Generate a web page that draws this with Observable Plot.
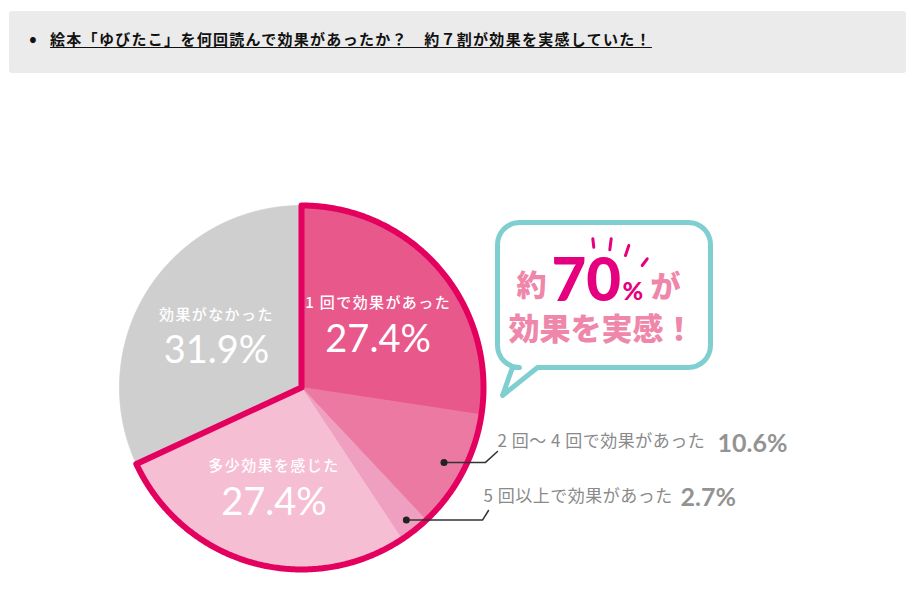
<!DOCTYPE html>
<html><head><meta charset="utf-8">
<script src="https://cdn.jsdelivr.net/npm/d3@7"></script>
<script src="https://cdn.jsdelivr.net/npm/@observablehq/plot@0.6"></script>
<style>
html,body{margin:0;padding:0;background:#fff;}
body{width:915px;height:589px;overflow:hidden;position:relative;font-family:"Noto Sans CJK JP","Noto Sans",sans-serif;}
#hdr{position:absolute;left:9px;top:11px;width:897px;height:62px;background:#ebebeb;border-radius:3px;}
#bullet{position:absolute;left:20px;top:15px;font-size:23px;line-height:23px;color:#111;}
#title{position:absolute;left:41px;top:20px;font-size:15px;line-height:16px;font-weight:700;color:#111;text-decoration:underline;text-underline-offset:2px;letter-spacing:1.3px;white-space:nowrap;}
#chart{position:absolute;left:0;top:80px;}
</style>
</head><body>
<div id="hdr"><span id="bullet">•</span><span id="title">絵本「ゆびたこ」を何回読んで効果があったか？　約７割が効果を実感していた！</span></div>
<div id="chart"></div>
<script>
// ---- data ----
const categories = ["1 回で効果があった", "2 回〜 4 回で効果があった", "5 回以上で効果があった", "多少効果を感じた", "効果がなかった"];
const values = [27.4, 10.6, 2.7, 27.4, 31.9];
const percentLabels = ["27.4%", "10.6%", "2.7%", "27.4%", "31.9%"];
const colors = ["#e9588b", "#ec79a1", "#efa0c0", "#f5bed2", "#cfcfcf"];
const effectCount = 4; // slices inside the "about 70%" outline
const calloutTexts = ["約", "70", "%", "が", "効果を実感！"];

// ---- layout ----
const W = 915, H = 509;
const CX = 301, CY = 307, R = 182;
const data = categories.map((c, i) => ({i, category: c, value: values[i], color: colors[i], pct: percentLabels[i]}));
const arcs = d3.pie().sort(null).value(d => d.value)(data);
const pt = (a, r) => [CX + r * Math.sin(a), CY - r * Math.cos(a)];
const arcPts = (a0, a1, r) => {
  const n = Math.max(2, Math.ceil((a1 - a0) / (Math.PI / 360)));
  return d3.range(n + 1).map(k => pt(a0 + (a1 - a0) * k / n, r));
};

const slicePts = arcs.flatMap((a, i) =>
  [[CX, CY], ...arcPts(a.startAngle, a.endAngle, R), [CX, CY]].map(([x, y]) => ({x, y, i, color: colors[i]})));

const outlinePts = [[CX, CY], ...arcPts(0, arcs[effectCount - 1].endAngle, R), [CX, CY]].map(([x, y]) => ({x, y}));

// labels inside big slices
const inside = [0, 3, 4].map(i => {
  const m = (arcs[i].startAngle + arcs[i].endAngle) / 2;
  const [x, y] = pt(m, 101);
  return {x, y, name: categories[i], pct: percentLabels[i]};
});

// outside labels for small slices
const outside = [
  {i: 1, r: 161, elbowX: 485, endX: 497, endY: 371, tx: 497, ty: 361, px: 717, py: 363},
  {i: 2, r: 169, elbowX: 482, endX: 488, endY: 430, tx: 483, ty: 416, px: 680, py: 417}
].map(o => {
  const m = (arcs[o.i].startAngle + arcs[o.i].endAngle) / 2;
  const [x, y] = pt(m, o.r);
  return {...o, dx: x, dy: y, name: categories[o.i], pct: percentLabels[o.i]};
});
const leaderPts = outside.flatMap(o => [
  {x: o.dx, y: o.dy, k: o.i}, {x: o.elbowX, y: o.dy, k: o.i}, {x: o.endX, y: o.endY, k: o.i}
]);

// speech bubble
const bx0 = 497, bx1 = 710, by0 = 142, by1 = 287, br = 22;
const corner = (cx, cy, a0, a1) => d3.range(0, 9).map(k => {
  const t = a0 + (a1 - a0) * k / 8;
  return [cx + br * Math.cos(t), cy + br * Math.sin(t)];
});
const bubble = [
  [bx0 + br, by0], [bx1 - br, by0],
  ...corner(bx1 - br, by0 + br, -Math.PI / 2, 0),
  [bx1, by1 - br],
  ...corner(bx1 - br, by1 - br, 0, Math.PI / 2),
  [537, by1], [502, 315], [512, by1],
  ...corner(bx0 + br, by1 - br, Math.PI / 2, Math.PI),
  [bx0, by0 + br],
  ...corner(bx0 + br, by0 + br, Math.PI, 1.5 * Math.PI),
  [bx0 + br, by0]
].map(([x, y]) => ({x, y}));

const rays = [
  {x1: 592.3, y1: 158.3, x2: 593.3, y2: 166.7},
  {x1: 610.7, y1: 158.3, x2: 609.3, y2: 169.3},
  {x1: 628.3, y1: 165, x2: 625, y2: 175},
  {x1: 646.7, y1: 178.3, x2: 641.7, y2: 185}
];

const pink = "#ef87ab", magenta = "#e4007f", grayText = "#8a8a8a";
const cjk = "Noto Sans CJK JP";

const chart = Plot.plot({
  width: W, height: H,
  margin: 0, marginTop: 0, marginRight: 0, marginBottom: 0, marginLeft: 0,
  x: {domain: [0, W], range: [0, W], axis: null},
  y: {domain: [0, H], range: [0, H], axis: null},
  color: {type: "identity"},
  style: {background: "transparent", overflow: "visible"},
  marks: [
    Plot.line(slicePts, {x: "x", y: "y", z: "i", fill: "color", stroke: "color", strokeWidth: 0.8, curve: "linear"}),
    Plot.line(outlinePts, {x: "x", y: "y", stroke: "#e3005f", strokeWidth: 6, strokeLinejoin: "round", strokeLinecap: "round", curve: "linear"}),
    Plot.text(inside, {x: "x", y: d => d.y - 18, text: "name", fill: "white", fontSize: 15, fontWeight: 500, fontFamily: cjk, ariaDescription: "inname"}),
    Plot.text(inside, {x: "x", y: d => d.y + 18, text: "pct", fill: "white", fontSize: 38, fontFamily: "Lato"}),
    Plot.line(leaderPts, {x: "x", y: "y", z: "k", stroke: "#333", strokeWidth: 1.5, curve: "linear"}),
    Plot.dot(outside, {x: "dx", y: "dy", r: 3.5, fill: "#222", stroke: "none"}),
    Plot.text(outside, {x: "tx", y: "ty", text: "name", textAnchor: "start", fill: grayText, fontSize: 17, fontWeight: 400, fontFamily: cjk, ariaDescription: "outname"}),
    Plot.text(outside, {x: "px", y: "py", text: "pct", textAnchor: "start", fill: "#939393", fontSize: 25, fontWeight: 700, fontFamily: "Lato"}),
    // speech bubble
    Plot.line(bubble, {x: "x", y: "y", fill: "white", stroke: "#80cfd0", strokeWidth: 5, strokeLinejoin: "round", curve: "linear"}),
    Plot.link(rays, {x1: "x1", y1: "y1", x2: "x2", y2: "y2", stroke: magenta, strokeWidth: 3, strokeLinecap: "round"}),
    Plot.text([calloutTexts[0]], {x: 516, y: 206, text: d => d, textAnchor: "start", fill: pink, fontSize: 30, fontWeight: 900, fontFamily: cjk}),
    Plot.text([calloutTexts[1]], {x: 551, y: 201, text: d => d, textAnchor: "start", fill: magenta, fontSize: 60, fontWeight: 900, fontFamily: "Lato"}),
    Plot.text([calloutTexts[2]], {x: 622, y: 211, text: d => d, textAnchor: "start", fill: magenta, fontSize: 25, fontWeight: 900, fontFamily: "Lato"}),
    Plot.text([calloutTexts[3]], {x: 650, y: 207, text: d => d, textAnchor: "start", fill: pink, fontSize: 30, fontWeight: 900, fontFamily: cjk}),
    Plot.text([calloutTexts[4]], {x: 508, y: 250, text: d => d, textAnchor: "start", fill: pink, fontSize: 31, fontWeight: 900, fontFamily: cjk})
  ]
});
d3.select(chart).selectAll('g[aria-description="inname"] text').style("letter-spacing", "1.4px");
d3.select(chart).selectAll('g[aria-description="outname"] text').style("letter-spacing", "0.5px");
document.getElementById("chart").appendChild(chart);
</script>
</body></html>
